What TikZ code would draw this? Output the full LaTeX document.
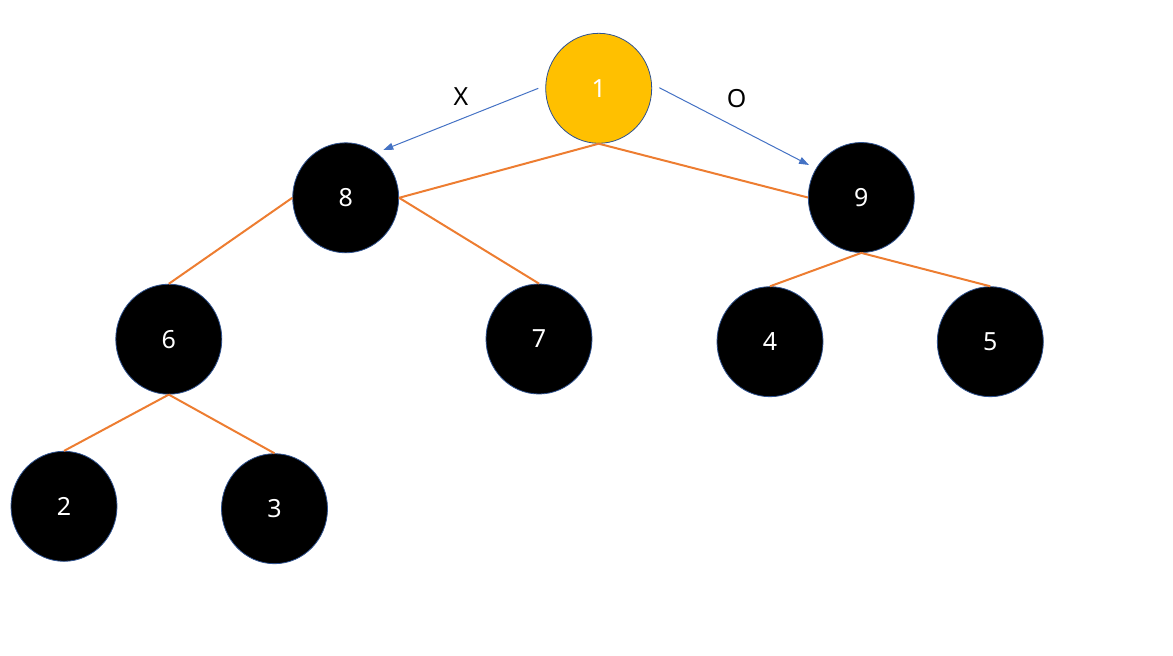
\documentclass[tikz,border=0pt]{standalone}
\usepackage{fontspec}
\setmainfont{Noto Sans}
\usetikzlibrary{shapes.geometric,arrows.meta}
\definecolor{edgeor}{HTML}{ED7D31}
\definecolor{arrblue}{HTML}{4472C4}
\definecolor{rimblue}{HTML}{2F528F}
\definecolor{gold}{HTML}{FFC000}
\tikzset{
  treenode/.style={ellipse, draw=rimblue, line width=0.8pt, fill=black, text=white,
    minimum width=106pt, minimum height=110pt, inner sep=0pt,
    font=\fontsize{25}{30}\selectfont},
  rootnode/.style={treenode, fill=gold},
  treeedge/.style={draw=edgeor, line width=2pt},
  blueedge/.style={draw=arrblue, line width=1pt, -{Triangle[length=10pt,width=7pt]}},
  lbl/.style={font=\fontsize{25}{30}\selectfont, text=black, inner sep=0pt}
}
\begin{document}
\begin{tikzpicture}[x=1pt,y=-1pt]
\useasboundingbox (0,0) rectangle (1173,656);
\node[rootnode] (n1) at (598.7,88.3) {1};
\node[treenode] (n8) at (345.7,197.8) {8};
\node[treenode] (n9) at (861.3,197.5) {9};
\node[treenode] (n6) at (168.8,339.2) {6};
\node[treenode] (n7) at (539,339) {7};
\node[treenode] (n4) at (770,341.7) {4};
\node[treenode] (n5) at (990.3,341.7) {5};
\node[treenode] (n2) at (64,506.3) {2};
\node[treenode] (n3) at (274.5,508.7) {3};
\begin{scope}[on background layer/.try]
\end{scope}
\draw[treeedge] (n1.south) -- (n8.east);
\draw[treeedge] (n1.south) -- (n9.west);
\draw[treeedge] (n8.west) -- (n6.north);
\draw[treeedge] (n8.east) -- (n7.north);
\draw[treeedge] (n9.south) -- (n4.north);
\draw[treeedge] (n9.south) -- (n5.north);
\draw[treeedge] (n6.south) -- (n2.north);
\draw[treeedge] (n6.south) -- (n3.north);
\coordinate (xa) at (538.3,88.3);
\coordinate (xb) at (383.3,150);
\coordinate (oa) at (659.3,87.7);
\coordinate (ob) at (809,165);
\draw[blueedge] (xa) -- (xb);
\draw[blueedge] (oa) -- (ob);
\node[lbl] (lx) at (461,96.7) {X};
\node[lbl] (lo) at (736.7,99) {O};
\end{tikzpicture}
\end{document}
